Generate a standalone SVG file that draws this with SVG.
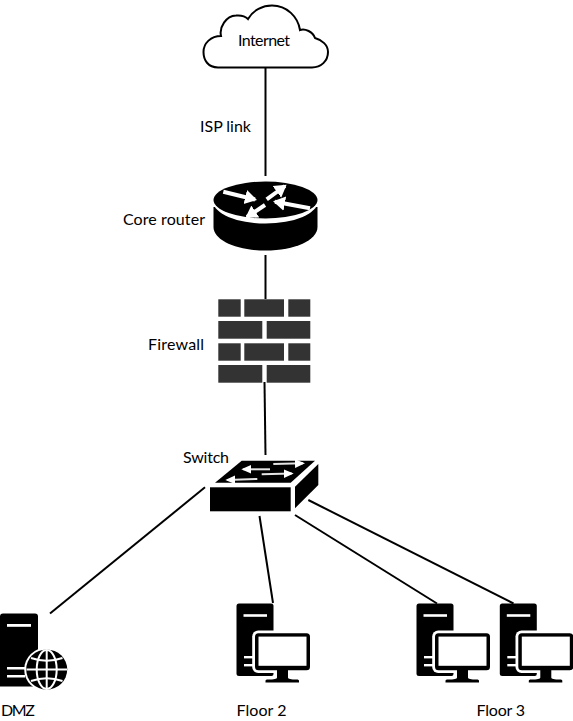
<svg xmlns="http://www.w3.org/2000/svg" width="573" height="721" viewBox="0 0 573 721">
<style>
text{font-family:"Lato","Open Sans","Liberation Sans",sans-serif;font-size:16px;fill:#000}
.c line{stroke:#000;stroke-width:2;fill:none}
.brick{fill:#333}
.wa{stroke:#fff;stroke-width:4;fill:none;marker-end:url(#h)}
.wb{stroke:#e4e4e4;stroke-width:2;fill:none;marker-end:url(#h2)}
</style>
<defs>
<marker id="h" markerWidth="5" markerHeight="5" refX="2.500" refY="2" orient="auto" markerUnits="strokeWidth"><path d="M0 0.200L3 2L0 3.800z" fill="#fff"/></marker>
<marker id="h2" markerWidth="7" markerHeight="7" refX="4" refY="2.500" orient="auto" markerUnits="strokeWidth"><path d="M0 0.300L5 2.500L0 4.700z" fill="#fff"/></marker>
<g id="pc">
<path d="M239 603.500H271a2.500 2.500 0 0 1 2.500 2.500V674a2 2 0 0 1-2 2H239a2.500 2.500 0 0 1-2.500-2.500V606a2.500 2.500 0 0 1 2.500-2.500z" fill="#000"/>
<rect x="243.500" y="614.200" width="23.500" height="2.600" fill="#fff"/>
<rect x="244" y="656" width="9" height="2.400" fill="#fff"/>
<rect x="244" y="664" width="9" height="2.400" fill="#fff"/>
<rect x="252.200" y="630.500" width="60" height="42.500" rx="6" fill="#fff"/>
<rect x="255" y="633.200" width="55" height="37" rx="3.500" fill="#000"/>
<rect x="258.500" y="636.600" width="48" height="29.200" fill="#fff"/>
<path d="M277 670H288V677.500C288 679 291 679.500 296.500 679.500C298.500 679.500 299 680 299 681V682.500H265.500V681C265.500 680 266 679.500 268 679.500C274 679.500 277 679 277 677.500z" fill="#000"/>
</g>
</defs>

<g id="connectors" class="c">
<line x1="265.500" y1="68" x2="265.500" y2="176"/>
<line x1="265.500" y1="255" x2="265.500" y2="299"/>
<line x1="264.500" y1="382" x2="265.500" y2="455"/>
<line x1="205" y1="487.300" x2="50" y2="613.500"/>
<line x1="259.500" y1="516" x2="273" y2="603"/>
<line x1="295" y1="515" x2="437" y2="603.500"/>
<line x1="308.300" y1="500" x2="513.500" y2="603.500"/>
</g>

<g id="internet">
<path d="M218 67.500C208 67.500 203.500 60 203.500 52C203.500 43 211 36 221 36C219 27 226 16 236 15.500C241 15 245 16 248 19C253 10 263 5.500 272 5.500C287 5.500 298 17 300 30C305 28 313 32 315 38C322 40 328 45 328 52C328 61 321 67.500 312 67.500z" fill="#fff" stroke="#000" stroke-width="2"/>
<text x="238" y="45.700" textLength="52">Internet</text>
</g>

<g id="isp-link"><text x="200" y="131.700" textLength="51">ISP link</text></g>

<g id="core-router">
<path d="M213.500 207V227C213.500 240 236 250.500 265.500 250.500C295 250.500 317.500 240 317.500 227V207z" fill="#000"/>
<ellipse cx="265.500" cy="201" rx="52.500" ry="22.500" fill="#fff"/>
<ellipse cx="265.500" cy="200" rx="52" ry="18.500" fill="#000"/>
<line class="wa" x1="223.300" y1="191.700" x2="255" y2="199.500"/>
<line class="wa" x1="266.700" y1="199.300" x2="285" y2="186"/>
<line class="wa" x1="310" y1="208.300" x2="275" y2="201.700"/>
<line class="wa" x1="265" y1="205" x2="247" y2="217"/>
<text x="123" y="225" textLength="82">Core router</text>
</g>

<g id="firewall">
<rect class="brick" x="218.300" y="299.300" width="22.400" height="17.400"/>
<rect class="brick" x="244.300" y="299.300" width="39.700" height="17.400"/>
<rect class="brick" x="288.300" y="299.300" width="22" height="17.400"/>
<rect class="brick" x="218.300" y="321" width="44" height="17.700"/>
<rect class="brick" x="266.700" y="321" width="43.600" height="17.700"/>
<rect class="brick" x="218.300" y="343.300" width="22.400" height="17.400"/>
<rect class="brick" x="244.300" y="343.300" width="39.700" height="17.400"/>
<rect class="brick" x="288.300" y="343.300" width="22" height="17.400"/>
<rect class="brick" x="218.300" y="365" width="44" height="17.700"/>
<rect class="brick" x="266.700" y="365" width="43.600" height="17.700"/>
<text x="148" y="350" textLength="56">Firewall</text>
</g>

<g id="switch">
<path d="M215 482.700L241.700 460.700H315L290.700 482.700z" fill="#000"/>
<rect x="210" y="487.300" width="80.700" height="24" fill="#000"/>
<path d="M295 486.700L318.300 464V485L295 508.300z" fill="#000"/>
<line class="wb" x1="273.300" y1="464" x2="303" y2="463.300"/>
<line class="wb" x1="270" y1="469.300" x2="243.300" y2="469.300"/>
<line class="wb" x1="261.700" y1="474.300" x2="291.700" y2="473.500"/>
<line class="wb" x1="257.300" y1="479" x2="227.300" y2="480"/>
<text x="183" y="462.700" textLength="46">Switch</text>
</g>

<g id="dmz">
<path d="M3 613.500H35a3 3 0 0 1 3 3V686.500H0V616.500a3 3 0 0 1 3-3z" fill="#000"/>
<rect x="7" y="624" width="24" height="2.800" fill="#fff"/>
<rect x="7" y="667" width="18" height="2.500" fill="#fff"/>
<rect x="7" y="675" width="18" height="2.500" fill="#fff"/>
<ellipse cx="46.700" cy="669.500" rx="22.500" ry="22" fill="#fff"/>
<ellipse cx="46.700" cy="669.500" rx="20.500" ry="20" fill="#000"/>
<g stroke="#fff" stroke-width="2" fill="none">
<ellipse cx="46.700" cy="669.500" rx="10" ry="19.500"/>
<line x1="46.700" y1="650" x2="46.700" y2="689"/>
<line x1="26.500" y1="669.500" x2="67" y2="669.500"/>
<path d="M31 658Q46.700 663.500 62.500 658"/>
<path d="M31 681Q46.700 675.500 62.500 681"/>
</g>
<text x="1" y="716" textLength="34">DMZ</text>
</g>

<g id="floor-2">
<use href="#pc"/>
<text x="236.500" y="716" textLength="50">Floor 2</text>
</g>

<g id="floor-3">
<use href="#pc" x="180"/>
<use href="#pc" x="263.300"/>
<text x="476.500" y="716" textLength="48.500">Floor 3</text>
</g>
</svg>
